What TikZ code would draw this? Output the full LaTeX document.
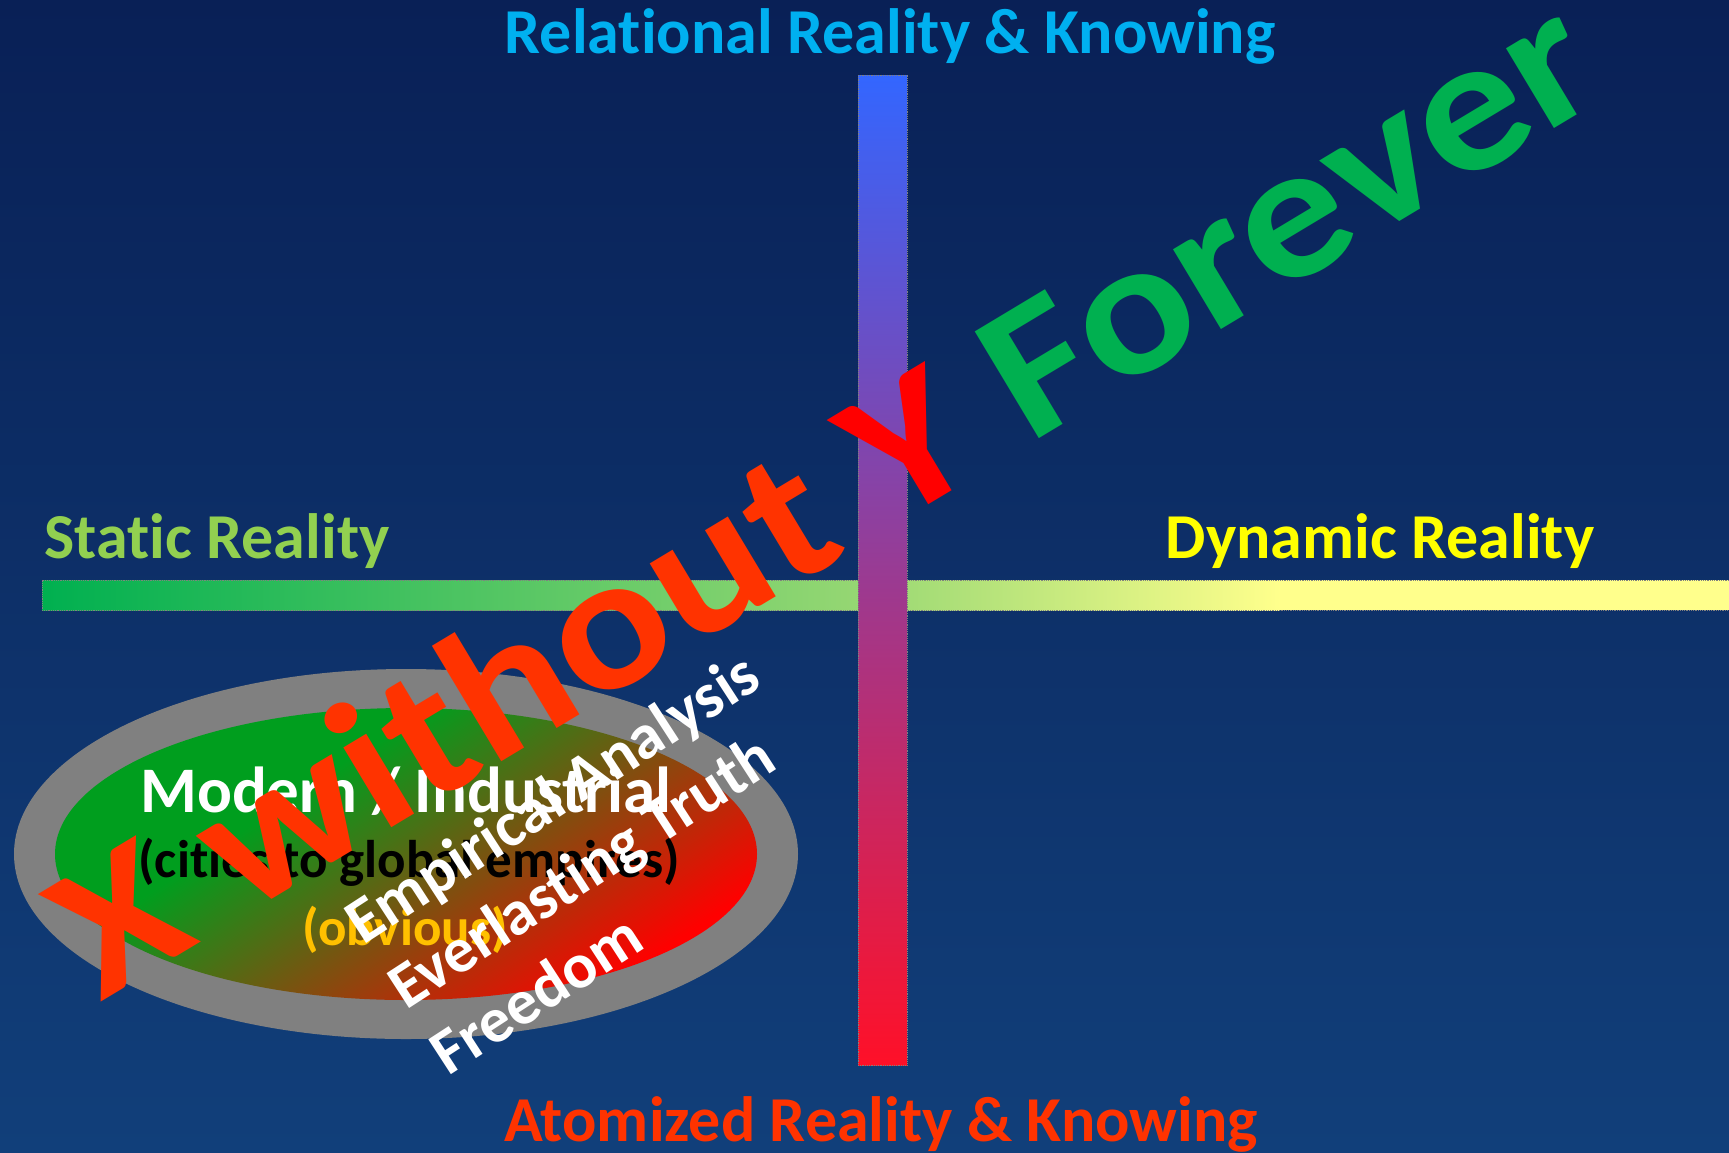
\documentclass[tikz,border=0pt]{standalone}
\usepackage{fontspec}
\setmainfont{Carlito}[Ligatures=NoCommon]
\newfontfamily\slogfont{Carlito}[Ligatures=NoCommon, FakeStretch=1.12]

\definecolor{bgtop}{RGB}{9,32,86}
\definecolor{bgbot}{RGB}{17,63,122}
\definecolor{relcyan}{RGB}{0,176,240}
\definecolor{statgreen}{RGB}{146,208,80}
\definecolor{dynyellow}{RGB}{255,255,0}
\definecolor{atomred}{RGB}{255,51,0}
\definecolor{forevergreen}{RGB}{0,176,80}
\definecolor{obvorange}{RGB}{255,192,0}
\definecolor{ovalgray}{RGB}{128,128,128}
\definecolor{ovalgreen}{RGB}{0,158,30}
\definecolor{ovalred}{RGB}{255,0,0}
\definecolor{vbarblue}{RGB}{51,102,255}
\definecolor{vbarpurple}{RGB}{168,82,204}
\definecolor{vbarred}{RGB}{255,16,40}
\definecolor{hbargreen}{RGB}{0,176,80}
\definecolor{hbarmid}{RGB}{150,215,115}
\definecolor{hbaryellow}{RGB}{255,255,140}

\pgfdeclareverticalshading{ovalshade}{100bp}{color(0bp)=(ovalred); color(36bp)=(ovalred); color(57bp)=(ovalgreen); color(100bp)=(ovalgreen)}

\tikzset{
  axislabel/.style={font=\bfseries\fontsize{64}{70}\selectfont, inner sep=0pt, anchor=base},
  ovaltitle/.style={font=\bfseries\fontsize{65}{72}\selectfont, inner sep=0pt, anchor=base},
  ovalsub/.style={font=\bfseries\fontsize{53}{60}\selectfont, inner sep=0pt, anchor=base},
  barrim/.style={draw=gray, densely dotted, line width=0.8pt},
  slanted/.style={font=\bfseries\fontsize{64}{78}\selectfont, white, align=left, rotate=33, inner sep=0pt},
  slogan/.style={font=\slogfont\bfseries\fontsize{192}{192}\selectfont, rotate=31, anchor=base west, inner sep=0pt}
}

\begin{document}
\begin{tikzpicture}[x=1pt, y=-1pt]
  \useasboundingbox (0,0) rectangle (1729,1152);

  % Background
  \shade[top color=bgtop, bottom color=bgbot] (0,0) rectangle (1729,1152);

  % Static - dynamic bar
  \shade[left color=hbargreen, right color=hbarmid] (42,580) rectangle (860,610);
  \shade[left color=hbarmid, right color=hbaryellow] (860,580) rectangle (1280,610);
  \fill[hbaryellow] (1280,580) rectangle (1729,610);
  \draw[barrim] (1729,580) -- (42,580) -- (42,610) -- (1729,610);

  % Relational - atomized bar
  \shadedraw[top color=vbarblue, middle color=vbarpurple, bottom color=vbarred, barrim] (858,75) rectangle (907,1065);

  % The oval
  \fill[ovalgray] (406,854) ellipse (392 and 185);
  \begin{scope}
    \clip (406,854) ellipse (351 and 146);
    \shade[shading=ovalshade, shading angle=34] (6,454) rectangle (806,1254);
  \end{scope}

  % Axis labels
  \node[axislabel, relcyan] (relational) at (890,53) {Relational Reality \& Knowing};
  \node[axislabel, statgreen] (static) at (217,558) {Static Reality};
  \node[axislabel, dynyellow] (dynamic) at (1380,558) {Dynamic Reality};
  \node[axislabel, atomred] (atomized) at (881,1141) {Atomized Reality \& Knowing};

  % Oval texts
  \node[ovaltitle, white] (modern) at (406,812) {Modern / Industrial};
  \node[ovalsub, black] (cities) at (409,877) {(cities to global empires)};
  \node[ovalsub, obvorange] (obvious) at (405,945) {(obvious)};

  % Big slogan
  \node[slogan] (slogan) at (100,1003)
    {\textcolor{atomred}{X without} \textcolor{red}{Y} \textcolor{forevergreen}{Forever}};

  % Slanted notes
  \node[slanted] (notes) at (594,862) {Empirical Analysis\\Everlasting Truth\\Freedom};
\end{tikzpicture}
\end{document}
